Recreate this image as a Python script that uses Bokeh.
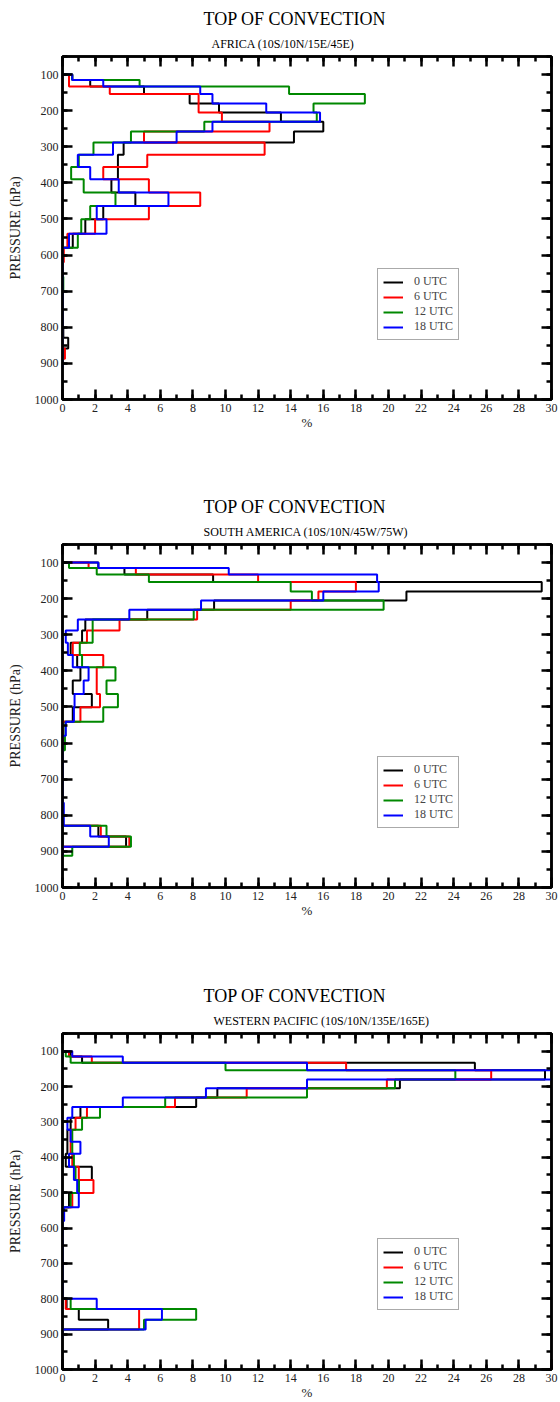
import numpy as np
from bokeh.plotting import figure
from bokeh.models import (Range1d, LinearAxis, Title, Legend, LegendItem, FixedTicker)
from bokeh.layouts import column
from bokeh.embed import file_html
from bokeh.resources import INLINE

# ---------------- data ----------------
# pressure-level bin edges (hPa), shared by all panels
EDGES = [100, 115, 133, 154, 180, 205, 231, 258, 288, 322, 356, 390, 427, 464,
         501, 541, 580, 620, 660, 700, 735, 765, 800, 829, 859, 887, 912]

SERIES = ["0 UTC", "6 UTC", "12 UTC", "18 UTC"]
COLORS = ["black", "red", "#008800", "blue"]

TITLE = "TOP OF CONVECTION"
SUBTITLES = ["AFRICA (10S/10N/15E/45E)",
             "SOUTH AMERICA (10S/10N/45W/75W)",
             "WESTERN PACIFIC (10S/10N/135E/165E)"]

X_TICKS = list(range(0, 31, 2))
X_MINOR = list(range(0, 31))
Y_TICKS = list(range(100, 1001, 100))
Y_MINOR = list(range(50, 1001, 50))

# % of convective tops per pressure bin
africa_00 = [0.6, 1.7, 5.0, 7.8, 9.6, 13.4, 16.0, 14.2, 3.75, 3.4, 3.4, 3.0, 4.47, 2.5, 1.4, 0.63,
             0, 0, 0, 0, 0, 0, 0.05, 0.35, 0, 0]
africa_06 = [0.4, 0.4, 2.9, 8.35, 8.35, 9.78, 12.7, 5.0, 12.4, 5.2, 2.5, 5.3, 8.45, 5.3, 2.0, 0.3,
             0.08, 0, 0, 0, 0, 0, 0, 0, 0.15, 0]
africa_12 = [0.6, 4.73, 13.9, 18.55, 15.4, 15.6, 8.7, 4.2, 1.9, 1.0, 0.53, 1.3, 3.25, 1.7, 1.15, 0.94,
             0, 0, 0.05, 0, 0, 0, 0, 0, 0, 0]
africa_18 = [0.6, 2.5, 8.45, 9.2, 12.5, 15.8, 9.2, 7.0, 3.1, 0.94, 1.7, 3.45, 6.5, 2.1, 2.7, 0.4,
             0, 0, 0, 0, 0, 0, 0, 0, 0, 0]

samer_00 = [2.2, 3.8, 9.24, 29.4, 21.1, 9.3, 5.2, 1.4, 1.2, 0.5, 0.9, 1.1, 0.63, 1.8, 0.63, 0,
            0, 0, 0, 0, 0, 0, 0, 2.2, 3.9, 0]
samer_06 = [1.6, 4.5, 12.0, 18.0, 15.7, 14.0, 8.26, 3.5, 1.5, 0.63, 2.5, 2.1, 2.1, 2.3, 1.1, 0,
            0, 0, 0, 0, 0, 0, 0, 2.35, 4.1, 0]
samer_12 = [0.4, 2.1, 5.3, 14.0, 15.3, 19.7, 8.05, 1.85, 1.85, 1.06, 1.2, 3.25, 2.7, 3.4, 2.5, 0.18,
            0.15, 0, 0, 0, 0, 0, 0, 2.7, 4.2, 0.6]
samer_18 = [2.2, 10.2, 19.3, 19.4, 16.0, 8.5, 4.1, 0.94, 0.2, 0.33, 0.63, 1.6, 1.3, 0.74, 0.7, 0.2,
            0, 0, 0, 0, 0, 0.08, 0.08, 1.7, 2.84, 0]

wpac_00 = [0.5, 1.2, 25.3, 29.6, 20.7, 9.5, 8.2, 1.1, 0.5, 0.3, 0.3, 0.2, 1.8, 1.0, 0.4, 0,
           0, 0, 0, 0, 0, 0, 0.25, 1.0, 2.8, 0]
wpac_06 = [0.4, 1.8, 17.4, 26.3, 19.9, 11.3, 6.9, 1.5, 0.8, 0.5, 0.5, 0.6, 1.0, 1.9, 0.6, 0,
           0, 0, 0, 0, 0, 0, 0.2, 4.7, 4.7, 0]
wpac_12 = [0.2, 0.5, 10.0, 24.1, 20.4, 15.0, 6.3, 2.3, 1.2, 0.6, 0.6, 0.7, 0.8, 1.0, 0.5, 0,
           0, 0, 0, 0, 0, 0, 0.5, 8.2, 5.0, 0]
wpac_18 = [0.6, 3.7, 15.0, 31.0, 15.0, 8.8, 3.7, 0.6, 0.3, 0.5, 1.1, 0.4, 0.7, 0.9, 1.0, 0.1,
           0, 0, 0, 0, 0, 0, 2.1, 6.1, 5.1, 0]

PANELS = [
    (SUBTITLES[0], [africa_00, africa_06, africa_12, africa_18]),
    (SUBTITLES[1], [samer_00, samer_06, samer_12, samer_18]),
    (SUBTITLES[2], [wpac_00, wpac_06, wpac_12, wpac_18]),
]

# ---------------- layout constants ----------------
SERIF = "Liberation Serif"
FIG_W = 560
BORDER_L, BORDER_R, BORDER_T = 62, 9, 56
FRAME_H = 343
HEIGHTS = [488, 489, 425]
TITLE_OFFSET = 141
SUB_OFFSETS = [149, 141, 151]


def stairs(edges, vals):
    xs, ys = [0.0], [float(edges[0])]
    for i, v in enumerate(vals):
        xs += [float(v), float(v)]
        ys += [float(edges[i]), float(edges[i + 1])]
    xs.append(0.0)
    ys.append(float(edges[-1]))
    return xs, ys


def style_axis(ax):
    ax.axis_line_width = 2.5
    ax.axis_line_color = "black"
    ax.major_tick_in = 10
    ax.major_tick_out = 0
    ax.minor_tick_in = 5
    ax.minor_tick_out = 0
    ax.major_tick_line_width = 2.5
    ax.minor_tick_line_width = 2.5
    ax.major_label_text_font = SERIF
    ax.major_label_text_font_size = "12px"
    ax.major_label_text_color = "#222222"
    ax.axis_label_text_font = SERIF
    ax.axis_label_text_font_style = "normal"
    ax.axis_label_text_color = "#222222"


def make_panel(idx, subtitle, data):
    h = HEIGHTS[idx]
    p = figure(width=FIG_W, height=h, output_backend="svg", toolbar_location=None,
               title=None,
               x_range=Range1d(0, 30), y_range=Range1d(1000, 50),
               min_border_left=BORDER_L, min_border_right=BORDER_R,
               min_border_top=BORDER_T, min_border_bottom=h - BORDER_T - FRAME_H)
    p.grid.visible = False
    p.outline_line_color = "black"
    p.outline_line_width = 2.5

    xt = FixedTicker(ticks=X_TICKS, minor_ticks=X_MINOR)
    yt = FixedTicker(ticks=Y_TICKS, minor_ticks=Y_MINOR)
    p.xaxis.ticker = xt
    p.yaxis.ticker = yt
    for ax in p.xaxis:
        style_axis(ax)
        ax.major_label_standoff = 4
        ax.axis_label = "%"
        ax.axis_label_text_font_size = "13px"
        ax.axis_label_standoff = 0
    for ax in p.yaxis:
        style_axis(ax)
        ax.major_label_standoff = 4
        ax.axis_label = "PRESSURE (hPa)"
        ax.axis_label_text_font_size = "14px"
        ax.axis_label_standoff = 9

    top = LinearAxis(ticker=xt)
    style_axis(top)
    top.major_label_overrides = {t: "" for t in X_TICKS}
    top.major_label_standoff = 0
    p.add_layout(top, "above")
    right = LinearAxis(ticker=yt)
    style_axis(right)
    right.major_label_overrides = {t: "" for t in Y_TICKS}
    right.major_label_standoff = 0
    p.add_layout(right, "right")

    items = []
    for name, color, vals in zip(SERIES, COLORS, data):
        xs, ys = stairs(EDGES, vals)
        r = p.line(xs, ys, line_color=color, line_width=2)
        items.append(LegendItem(label=name, renderers=[r]))

    legend = Legend(items=items, location=(315, 59), orientation="vertical",
                    label_text_font=SERIF, label_text_font_size="12px",
                    glyph_width=20, glyph_height=12, label_height=12,
                    label_standoff=11, spacing=0, padding=5, margin=0,
                    border_line_color="#555555", border_line_width=1,
                    background_fill_color="white", background_fill_alpha=1)
    p.add_layout(legend, "center")

    p.add_layout(Title(text=subtitle, align="left", offset=SUB_OFFSETS[idx],
                       text_font=SERIF, text_font_size="12px", text_font_style="normal",
                       text_color="black", standoff=12), "above")
    p.add_layout(Title(text=TITLE, align="left", offset=TITLE_OFFSET,
                       text_font=SERIF, text_font_size="18px", text_font_style="normal",
                       text_color="black", standoff=0), "above")
    return p


figs = [make_panel(i, sub, d) for i, (sub, d) in enumerate(PANELS)]
layout = column(*figs, spacing=0)

open("out.html", "w").write(file_html(layout, INLINE))
